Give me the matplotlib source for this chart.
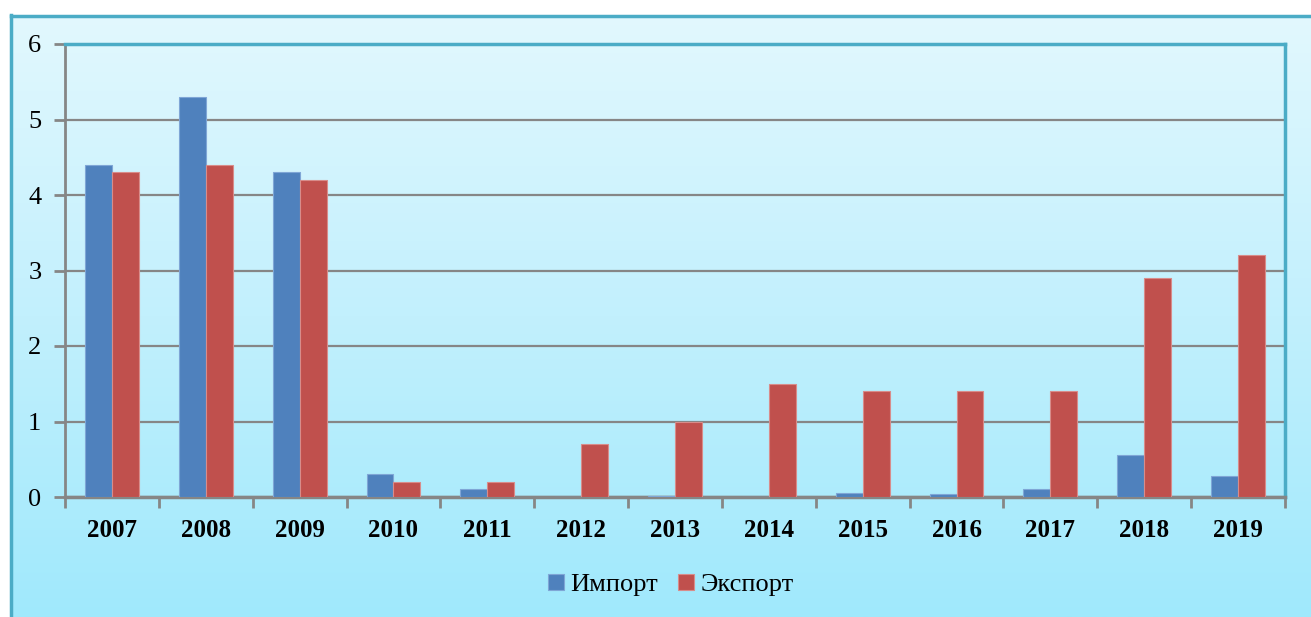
import matplotlib.pyplot as plt
import numpy as np
from matplotlib.colors import LinearSegmentedColormap
from matplotlib.lines import Line2D

# --------------------------------------------------
# Data
# --------------------------------------------------

years = ["2007", "2008", "2009", "2010", "2011", "2012", "2013",
         "2014", "2015", "2016", "2017", "2018", "2019"]

import_vals = [4.4, 5.3, 4.3, 0.3, 0.1, 0.005, 0.015,
               0.005, 0.055, 0.04, 0.105, 0.555, 0.275]

export_vals = [4.3, 4.4, 4.2, 0.2, 0.2, 0.7, 1.0,
               1.5, 1.4, 1.4, 1.4, 2.9, 3.2]

series_names = ["Импорт", "Экспорт"]

# --------------------------------------------------
# Figure and gradient background
# --------------------------------------------------

plt.rcParams["font.family"] = ["Liberation Serif", "DejaVu Serif"]

W, H = 1311, 617
fig = plt.figure(figsize=(W / 100, H / 100), dpi=100)
fig.patch.set_facecolor("white")

bg = fig.add_axes([10 / W, 0, 1 - 10 / W, 1 - 15 / H])
grad_cmap = LinearSegmentedColormap.from_list(
    "bg", ["#a0e9fc", "#c2f0fd", "#e2f8fe"]
)
bg.imshow(np.linspace(0, 1, 256).reshape(-1, 1), aspect="auto",
          cmap=grad_cmap, origin="lower", extent=[0, 1, 0, 1])
bg.set_xlim(0, 1)
bg.set_ylim(0, 1)
bg.axis("off")

# outer chart border (left and top visible)
border = "#4bacc6"
fig.add_artist(Line2D([11 / W, 11 / W], [0, 1 - 15 / H],
                      color=border, lw=2.5))
fig.add_artist(Line2D([11 / W, 1], [1 - 15.5 / H, 1 - 15.5 / H],
                      color=border, lw=2.5))

# --------------------------------------------------
# Bars
# --------------------------------------------------

left, right, top, bottom = 65, 1285, 44, 497
ax = fig.add_axes([left / W, 1 - bottom / H,
                   (right - left) / W, (bottom - top) / H])
ax.set_facecolor("none")

x = np.arange(len(years))
width = 0.287

ax.bar(x - width / 2, import_vals, width, color="#4f81bd",
       edgecolor="#7fa6d6", linewidth=0.8, label=series_names[0],
       zorder=3)
ax.bar(x + width / 2, export_vals, width, color="#c0504d",
       edgecolor="#d88c8a", linewidth=0.8, label=series_names[1],
       zorder=3)

ax.set_xlim(-0.5, len(years) - 0.5)
ax.set_ylim(0, 6)

# gridlines
ax.set_yticks(range(0, 7))
ax.yaxis.grid(True, color="#868686", linewidth=1.6, zorder=1)
ax.set_axisbelow(True)

# spines
grey = "#868686"
ax.spines["left"].set_color(grey)
ax.spines["bottom"].set_color(grey)
ax.spines["left"].set_linewidth(2)
ax.spines["bottom"].set_linewidth(2.5)
ax.spines["top"].set_color(border)
ax.spines["right"].set_color(border)
ax.spines["top"].set_linewidth(2.5)
ax.spines["right"].set_linewidth(2.5)

# ticks
ax.set_xticks(x)
ax.set_xticklabels(years, fontsize=18, fontweight="bold")
ax.set_xticks(np.arange(-0.5, len(years)), minor=True)
ax.tick_params(axis="x", which="major", length=0, pad=16)
ax.tick_params(axis="x", which="minor", length=8, width=2, color=grey,
               direction="out")
ax.tick_params(axis="y", length=8, width=2, color=grey, direction="out",
               labelsize=19, pad=9)

# --------------------------------------------------
# Legend
# --------------------------------------------------

fig.legend(loc="center", bbox_to_anchor=(671 / W, 1 - 585 / H),
           ncol=2, frameon=False, fontsize=19,
           handlelength=0.6, handleheight=0.6, handletextpad=0.25,
           columnspacing=0.75)

fig.savefig("out.png", dpi=100)
